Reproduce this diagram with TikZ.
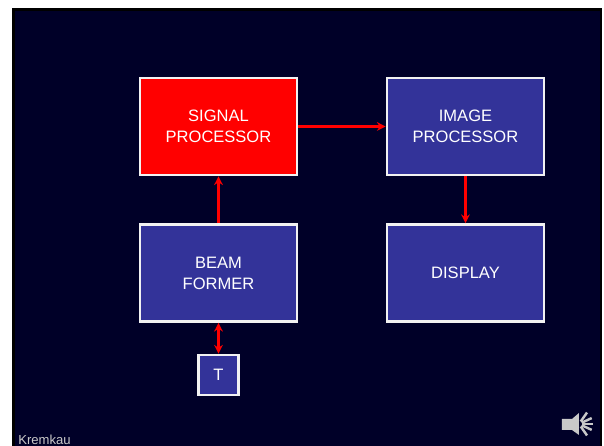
\documentclass[tikz,border=0pt]{standalone}
\usepackage{fontspec}
\setmainfont{Liberation Sans}
\definecolor{kmNavy}{HTML}{000028}
\definecolor{kmBlue}{HTML}{333399}
\definecolor{kmRed}{HTML}{FF0000}
\definecolor{kmLine}{HTML}{F2F2F2}
\definecolor{kmGrey}{HTML}{C8C8C8}
\usetikzlibrary{arrows.meta}
\begin{document}
\begin{tikzpicture}[
  block/.style={draw=kmLine, line width=1.5pt, fill=kmBlue, text=white, align=center,
    minimum width=3.14cm, minimum height=1.94cm, inner sep=0pt, font=\fontsize{9.4pt}{11.9pt}\selectfont},
  hot/.style={block, fill=kmRed},
  small/.style={block, minimum width=0.8cm, minimum height=0.8cm},
  arr/.style={-{Stealth[length=5pt,width=5pt]}, line width=1.5pt, color=kmRed},
  both/.style={arr, {Stealth[length=5pt,width=5pt]}-{Stealth[length=5pt,width=5pt]}}
]
  \useasboundingbox (0,0) rectangle (12.08,8.92);
  % Slide background
  \fill[white] (0,0) rectangle (12.08,8.92);
  \fill[black] (0.24,0) rectangle (12.04,8.76);
  \fill[kmNavy] (0.30,0) rectangle (12.00,8.70);
  % Blocks
  \node[hot]   (signal)  at (4.37,6.39) {SIGNAL\\PROCESSOR};
  \node[block] (image)   at (9.31,6.39) {IMAGE\\PROCESSOR};
  \node[block] (beam)    at (4.37,3.46) {BEAM\\FORMER};
  \node[block] (display) at (9.31,3.46) {DISPLAY};
  \node[small] (probe)   at (4.37,1.42) {T};
  % Arrows
  \draw[arr]  (beam) -- (signal);
  \draw[arr]  (signal) -- (image);
  \draw[arr]  (image) -- (display);
  \draw[both] (probe) -- (beam);
  % Footer
  \node[text=kmGrey, font=\fontsize{7.45pt}{9pt}\selectfont, anchor=base west, inner sep=0pt] (credit) at (0.36,0.02) {Kremkau};
  % Sound icon
  \fill[kmGrey] (11.24,0.54) -- (11.44,0.54) -- (11.58,0.66) -- (11.58,0.22) -- (11.44,0.32) -- (11.24,0.32) -- cycle;
  \foreach \a in {-55,-25,0,25,55} {
    \draw[kmGrey, line width=1.4pt, shift={(11.58,0.44)}, rotate=\a] (0.06,0) -- (0.28,0);
  }
\end{tikzpicture}
\end{document}
